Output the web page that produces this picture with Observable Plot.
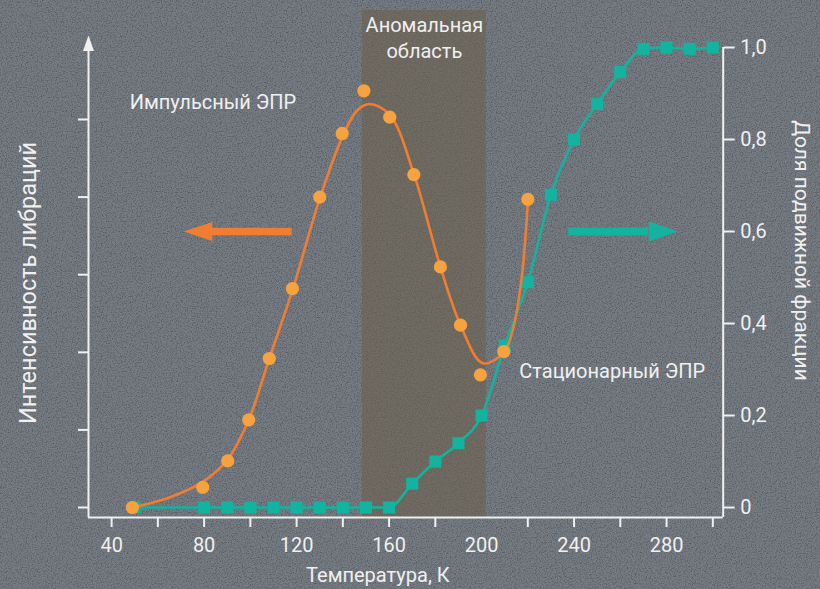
<!DOCTYPE html>
<html>
<head>
<meta charset="utf-8">
<script src="https://cdn.jsdelivr.net/npm/d3@7"></script>
<script src="https://cdn.jsdelivr.net/npm/@observablehq/plot@0.6"></script>
<style>
  html, body { margin: 0; padding: 0; }
  body {
    width: 820px; height: 589px; overflow: hidden;
    background-color: #767c83;
    background-image: url("data:image/svg+xml;utf8,<svg xmlns='http://www.w3.org/2000/svg' width='820' height='589'><filter id='n'><feTurbulence type='fractalNoise' baseFrequency='0.8' numOctaves='3' stitchTiles='stitch'/><feColorMatrix values='0 0 0 0 0  0 0 0 0 0  0 0 0 0 0  0.7 0 0 0 -0.3'/></filter><rect width='100%' height='100%' filter='url(%23n)'/></svg>");
  }
  #chart svg { display: block; }
</style>
</head>
<body>
<div id="chart"></div>
<script>
// ---- data ----
// Pulsed EPR (orange circles): temperature, K and libration intensity (arbitrary units, 1 unit = 1 left tick)
const pulseT = [49, 79.4, 90.2, 99.3, 108.2, 118.2, 130.0, 139.7, 149.1, 160.3, 170.7, 182.2, 190.9, 199.5, 209.6, 220.0];
const pulseI = [0.0, 0.26, 0.60, 1.13, 1.92, 2.82, 4.00, 4.82, 5.37, 5.03, 4.29, 3.10, 2.35, 1.71, 2.01, 3.97];
// Smooth fitted curve through the pulsed EPR data
const fitT = [49, 65, 79.4, 90.2, 99.3, 108.2, 118.2, 130.0, 139.7, 146, 151.5, 160.3, 170.7, 182.2, 190.9, 200.5, 209.6, 214, 217.5, 220.0];
const fitI = [0.0, 0.13, 0.33, 0.62, 1.13, 1.92, 2.80, 3.98, 4.77, 5.11, 5.20, 5.06, 4.30, 3.10, 2.35, 1.86, 2.00, 2.35, 3.0, 3.93];
// Stationary EPR (teal squares): mobile fraction
const statT = [50, 80, 90, 100, 110, 120, 130, 140, 150, 160, 170, 180, 190, 200, 210, 220, 230, 240, 250, 260, 270, 280, 290, 300];
const statF = [0, 0, 0, 0, 0, 0, 0, 0, 0, 0, 0.052, 0.10, 0.14, 0.20, 0.352, 0.49, 0.68, 0.80, 0.877, 0.947, 0.997, 1.0, 0.997, 1.0];
// Anomalous region (K)
const anomaly = [148.5, 202];
// Axis ticks
const xTicks = [40, 60, 80, 100, 120, 140, 160, 180, 220, 240, 260, 280, 300];
const xLabels = [40, 80, 120, 160, 200, 240, 280];
const rightTicks = [0, 0.2, 0.4, 0.6, 0.8, 1.0];
const leftTicks = [0, 1, 2, 3, 4, 5];
// Direction arrows (K, at fraction 0.6)
const arrowOrange = {tail: 118.1, base: 83.5, tip: 71.2, y: 0.6};
const arrowTeal = {tail: 237.7, base: 272.3, tip: 284.9, y: 0.6};

// ---- styling ----
const ORANGE_LINE = "#f07d32";
const ORANGE_DOT = "#f7a23f";
const TEAL = "#12b39f";
const WHITE = "#f0f0f0";
const FONT = "Roboto, 'Liberation Sans', sans-serif";

const X0 = 30, X1 = 304.5;
const Y0 = -0.0217, Y1 = 1.0;
const K = 0.1687; // intensity units -> shared y units

const pulse = pulseT.map((t, i) => ({t, v: pulseI[i] * K}));
const fit = fitT.map((t, i) => ({t, v: fitI[i] * K}));
const stat = statT.map((t, i) => ({t, v: statF[i]}));

const arrowLeft = {draw(c) { c.moveTo(0, 0); c.lineTo(28.5, -9.5); c.lineTo(28.5, 9.5); c.closePath(); }};
const arrowRight = {draw(c) { c.moveTo(0, 0); c.lineTo(-29, -10); c.lineTo(-29, 10); c.closePath(); }};
const arrowUp = {draw(c) { c.moveTo(0, 0); c.lineTo(-5.5, 15.5); c.lineTo(5.5, 15.5); c.closePath(); }};

const fmt = d => d === 0 ? "0" : d.toFixed(1).replace(".", ",");

const chart = Plot.plot({
  width: 820,
  height: 589,
  marginLeft: 88,
  marginRight: 97.3,
  marginTop: 47,
  marginBottom: 72,
  style: {background: "transparent", color: WHITE, fontFamily: FONT, fontSize: "20px"},
  x: {domain: [X0, X1], label: null},
  y: {domain: [Y0, Y1], label: null},
  marks: [
    // anomalous region
    Plot.rect([anomaly], {x1: d => d[0], x2: d => d[1], y1: Y0, y2: 1.0804, fill: "#6b5e48", fillOpacity: 0.55}),
    Plot.text(["Аномальная\nобласть"], {x: (anomaly[0] + anomaly[1]) / 2, y: 1.024, fill: WHITE, fontSize: 20, lineHeight: 1.3, fontFamily: FONT}),
    // axes
    Plot.ruleY([Y0], {x1: X0, x2: X1, stroke: WHITE, strokeWidth: 2}),
    Plot.ruleX([X1], {y1: Y0, y2: 1.0, stroke: WHITE, strokeWidth: 2}),
    Plot.ruleX([X0], {y1: Y0, y2: 0.9935, stroke: WHITE, strokeWidth: 2}),
    Plot.dot([X0], {x: d => d, y: 1.026, symbol: arrowUp, fill: WHITE, stroke: "none"}),
    Plot.axisX({ticks: xTicks, tickSize: 10, tickFormat: () => "", stroke: WHITE, strokeWidth: 2}),
    Plot.axisX({ticks: xLabels, tickSize: 0, tickPadding: 20, tickFormat: d => String(d), fill: WHITE, fontSize: 20}),
    Plot.axisY({anchor: "left", ticks: leftTicks.map(v => v * K), tickSize: 10, tickFormat: () => "", stroke: WHITE, strokeWidth: 2}),
    Plot.axisY({anchor: "right", ticks: rightTicks, tickSize: 11, tickPadding: 6, tickFormat: fmt, stroke: WHITE, strokeWidth: 2, fill: WHITE, fontSize: 20}),
    // axis titles
    Plot.text(["Температура, К"], {frameAnchor: "bottom", dx: -28, dy: 64, fill: WHITE, fontSize: 20, fontFamily: FONT}),
    Plot.text(["Интенсивность либраций"], {frameAnchor: "left", textAnchor: "middle", dx: -60, dy: 0.5, rotate: -90, fill: WHITE, fontSize: 23.5, fontFamily: FONT}),
    Plot.text(["Доля подвижной фракции"], {frameAnchor: "right", textAnchor: "middle", dx: 79, dy: -32, rotate: 90, fill: WHITE, fontSize: 21, fontFamily: FONT}),
    // series labels
    Plot.text(["Импульсный ЭПР"], {x: 83.8, y: 0.881, fill: WHITE, fontSize: 20, fontFamily: FONT}),
    Plot.text(["Стационарный ЭПР"], {x: 256.5, y: 0.296, fill: WHITE, fontSize: 20, fontFamily: FONT}),
    // arrows
    Plot.ruleY([arrowOrange], {x1: "tail", x2: "base", y: "y", stroke: ORANGE_LINE, strokeWidth: 7.5}),
    Plot.dot([arrowOrange], {x: "tip", y: "y", symbol: arrowLeft, fill: ORANGE_LINE, stroke: "none"}),
    Plot.ruleY([arrowTeal], {x1: "tail", x2: "base", y: "y", stroke: TEAL, strokeWidth: 8}),
    Plot.dot([arrowTeal], {x: "tip", y: "y", symbol: arrowRight, fill: TEAL, stroke: "none"}),
    // stationary EPR
    Plot.line(stat, {x: "t", y: "v", stroke: TEAL, strokeWidth: 2.6, curve: "monotone-x"}),
    Plot.dot(stat, {x: "t", y: "v", symbol: "square", r: 6.8, fill: TEAL, stroke: "none"}),
    // pulsed EPR
    Plot.line(fit, {x: "t", y: "v", stroke: ORANGE_LINE, strokeWidth: 2.6, curve: "catmull-rom"}),
    Plot.dot(pulse, {x: "t", y: "v", r: 6.6, fill: ORANGE_DOT, stroke: "none"})
  ]
});
document.getElementById("chart").appendChild(chart);
</script>
</body>
</html>
